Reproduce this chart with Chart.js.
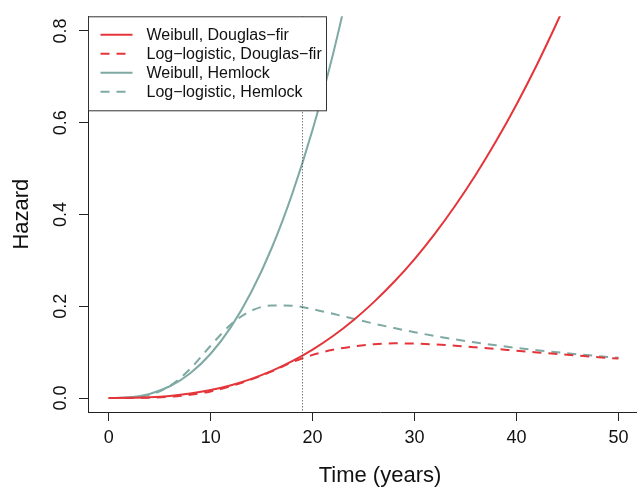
<!DOCTYPE html>
<html>
<head>
<meta charset="utf-8">
<script src="https://cdn.jsdelivr.net/npm/chart.js@4.4.1/dist/chart.umd.min.js"></script>
<style>
  html, body { margin: 0; padding: 0; background: #fff; overflow: hidden; }
  #wrap { width: 680px; height: 488px; }
</style>
</head>
<body>
<div id="wrap"><canvas id="chart" width="680" height="488"></canvas></div>
<script>
// time axis (years) shared by all four curves
const years = [0, 2, 4, 6, 8, 10, 12, 14, 16, 18, 20, 22, 24, 26, 28, 30, 32, 34, 36, 38, 40, 42, 44, 46, 48, 50];

// hazard
const weibullDouglasFir = [0, 0.0003, 0.0016, 0.0046, 0.0098, 0.0174, 0.028, 0.0418, 0.0591, 0.0803, 0.1056, 0.1352, 0.1696,
  0.209, 0.2533, 0.3029, 0.3584, 0.4196, 0.4866, 0.56, 0.6399, 0.7265, 0.8201, 0.92];
const logLogisticDouglasFir = [0, 0.0001, 0.0007, 0.0026, 0.0069, 0.0144, 0.0257, 0.0406, 0.0579, 0.078, 0.094, 0.105, 0.1125,
  0.1173, 0.1191, 0.1187, 0.1168, 0.1139, 0.1105, 0.1069, 0.1031, 0.0994, 0.0958, 0.0923, 0.089, 0.0859];
const weibullHemlock = [0, 0.0015, 0.0089, 0.0256, 0.054, 0.0965, 0.155, 0.2315, 0.3275, 0.445, 0.585, 0.7495, 0.94];
const logLogisticHemlock = [0, 0.0007, 0.0068, 0.0261, 0.0637, 0.114, 0.1606, 0.1903, 0.2019, 0.2011, 0.1937, 0.1836, 0.1728,
  0.1623, 0.1524, 0.1434, 0.1352, 0.1277, 0.121, 0.1149, 0.1093, 0.1042, 0.0996, 0.0953, 0.0914, 0.0878];

const xTicks = [0, 10, 20, 30, 40, 50];
const yTicks = [0, 0.2, 0.4, 0.6, 0.8];
const markerYear = 19;

const RED = '#E4353A';
const TEAL = '#7FA9A3';
const FONT = "'Liberation Sans', Arial, Helvetica, sans-serif";

Chart.defaults.font.family = FONT;

const toPoints = (values) => values.map((v, i) => ({ x: years[i], y: v }));

const series = (label, values, color, dashed) => ({
  label: label,
  data: toPoints(values),
  borderColor: color,
  backgroundColor: color,
  borderWidth: 2,
  borderDash: dashed ? [9, 7] : [],
  pointRadius: 0,
  cubicInterpolationMode: 'monotone',
  fill: false,
});

// vertical dotted reference line
const markerLine = {
  id: 'markerLine',
  afterDatasetsDraw(chart) {
    const { ctx, chartArea, scales } = chart;
    const x = Math.round(scales.x.getPixelForValue(markerYear)) + 0.5;
    ctx.save();
    ctx.strokeStyle = '#444';
    ctx.lineWidth = 1;
    ctx.setLineDash([1, 2]);
    ctx.beginPath();
    ctx.moveTo(x, chartArea.top);
    ctx.lineTo(x, chartArea.bottom);
    ctx.stroke();
    ctx.restore();
  },
};

// boxed legend in the top-left corner, like R's legend("topleft")
const boxLegend = {
  id: 'boxLegend',
  afterDraw(chart) {
    const { ctx, chartArea } = chart;
    const left = chartArea.left + 0.5;
    const top = chartArea.top + 0.5;
    const w = 238, h = 94;
    ctx.save();
    ctx.fillStyle = '#fff';
    ctx.fillRect(left, top, w, h);
    ctx.strokeStyle = '#333';
    ctx.lineWidth = 1;
    ctx.strokeRect(left, top, w, h);
    ctx.font = '16px ' + FONT;
    ctx.textBaseline = 'middle';
    chart.data.datasets.forEach((ds, i) => {
      const y = top + 18 + i * 19;
      ctx.strokeStyle = ds.borderColor;
      ctx.lineWidth = 2;
      ctx.setLineDash(ds.borderDash);
      ctx.beginPath();
      ctx.moveTo(left + 12, y);
      ctx.lineTo(left + 44, y);
      ctx.stroke();
      ctx.setLineDash([]);
      ctx.fillStyle = '#111';
      ctx.fillText(ds.label, left + 58, y + 1);
    });
    ctx.restore();
  },
};

const axisColor = '#222';

new Chart(document.getElementById('chart').getContext('2d'), {
  type: 'line',
  data: {
    datasets: [
      series('Weibull, Douglas\u2212fir', weibullDouglasFir, RED, false),
      series('Log\u2212logistic, Douglas\u2212fir', logLogisticDouglasFir, RED, true),
      series('Weibull, Hemlock', weibullHemlock, TEAL, false),
      series('Log\u2212logistic, Hemlock', logLogisticHemlock, TEAL, true),
    ],
  },
  options: {
    responsive: false,
    animation: false,
    layout: { padding: { top: 16, left: 0, right: 8, bottom: 0 } },
    plugins: {
      legend: { display: false },
      tooltip: { enabled: false },
    },
    scales: {
      x: {
        type: 'linear',
        min: -2.03,
        max: 55.25,
        afterBuildTicks: (s) => { s.ticks = xTicks.map((v) => ({ value: v })); },
        afterFit: (s) => { s.height = 76; },
        grid: { drawOnChartArea: false, drawTicks: true, tickLength: 9, color: axisColor },
        border: { display: true, color: axisColor, width: 1 },
        ticks: { color: '#111', font: { size: 18 }, padding: 6, maxRotation: 0, autoSkip: false },
        title: {
          display: true,
          text: 'Time (years)',
          color: '#111',
          font: { size: 22, lineHeight: 1 },
          padding: { top: 0, bottom: 1 },
        },
      },
      y: {
        type: 'linear',
        min: -0.0305,
        max: 0.832,
        afterBuildTicks: (s) => { s.ticks = yTicks.map((v) => ({ value: v })); },
        afterFit: (s) => { s.width = 88; },
        grid: { drawOnChartArea: false, drawTicks: true, tickLength: 9, color: axisColor },
        border: { display: true, color: axisColor, width: 1 },
        ticks: {
          color: '#111',
          font: { size: 18 },
          padding: 5.5,
          minRotation: 90,
          maxRotation: 90,
          crossAlign: 'center',
          callback: (v) => v.toFixed(1),
        },
        title: {
          display: true,
          text: 'Hazard',
          color: '#111',
          font: { size: 22, lineHeight: 1 },
          padding: { top: 11, bottom: 0 },
        },
      },
    },
  },
  plugins: [markerLine, boxLegend],
});
</script>
</body>
</html>
